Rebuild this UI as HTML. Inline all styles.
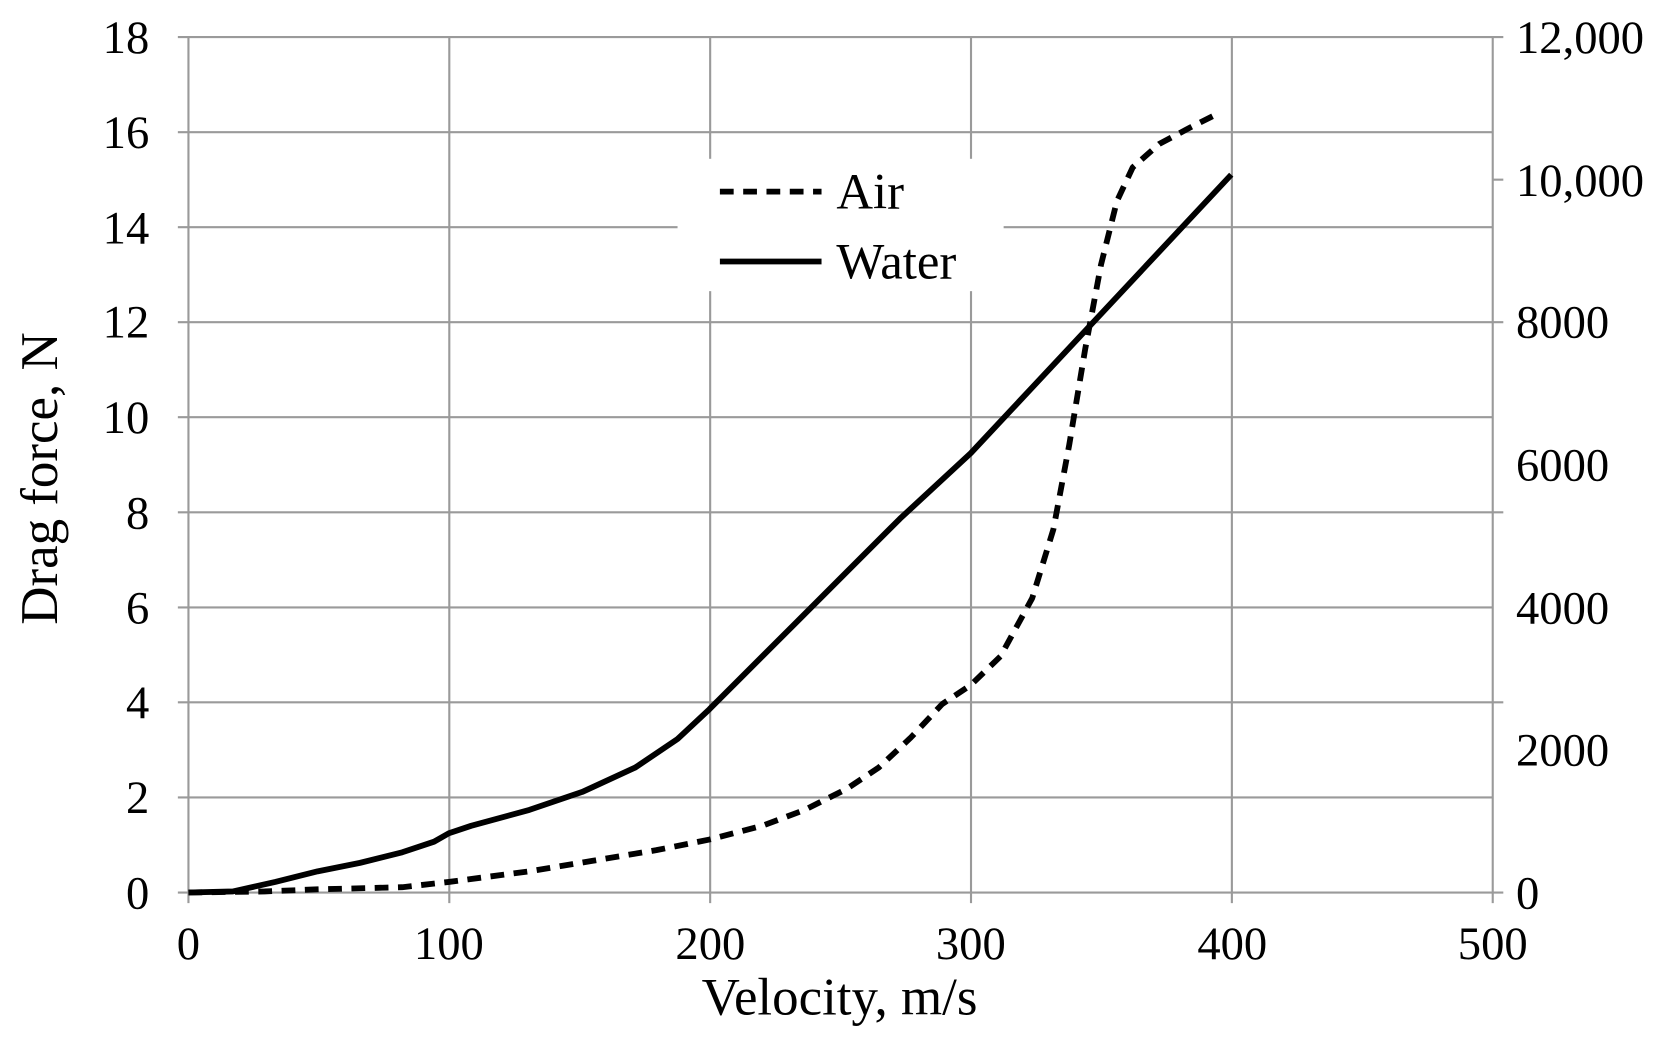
<!DOCTYPE html>
<html><head><meta charset="utf-8"><style>
html,body{margin:0;padding:0;background:#fff;}
svg{display:block;}
text{font-family:"Liberation Serif",serif;fill:#000;}
</style></head><body>
<svg width="1660" height="1042" viewBox="0 0 1568 984.2" preserveAspectRatio="none" xmlns="http://www.w3.org/2000/svg">
<g stroke="#9a9a9a" stroke-width="2" fill="none">
<line x1="168" y1="35" x2="1420" y2="35"/>
<line x1="168" y1="124.8" x2="1410" y2="124.8"/>
<line x1="168" y1="214.6" x2="1410" y2="214.6"/>
<line x1="168" y1="304.3" x2="1420" y2="304.3"/>
<line x1="168" y1="394.1" x2="1410" y2="394.1"/>
<line x1="168" y1="483.9" x2="1420" y2="483.9"/>
<line x1="168" y1="573.7" x2="1410" y2="573.7"/>
<line x1="168" y1="663.4" x2="1420" y2="663.4"/>
<line x1="168" y1="753.2" x2="1410" y2="753.2"/>
<line x1="168" y1="843" x2="1420" y2="843"/>
<line x1="1410" y1="169.7" x2="1420" y2="169.7"/>
<line x1="178" y1="35" x2="178" y2="853"/>
<line x1="424.4" y1="35" x2="424.4" y2="853"/>
<line x1="670.8" y1="35" x2="670.8" y2="853"/>
<line x1="917.2" y1="35" x2="917.2" y2="853"/>
<line x1="1163.6" y1="35" x2="1163.6" y2="853"/>
<line x1="1410" y1="35" x2="1410" y2="853"/>
</g>
<rect x="640" y="150" width="308" height="125" fill="#fff"/>
<g font-size="44" text-anchor="end">
<text x="141" y="50">18</text><text x="141" y="140">16</text><text x="141" y="230">14</text>
<text x="141" y="319">12</text><text x="141" y="409">10</text><text x="141" y="499">8</text>
<text x="141" y="589">6</text><text x="141" y="678">4</text><text x="141" y="768">2</text>
<text x="141" y="858">0</text>
</g>
<g font-size="44" text-anchor="start">
<text x="1432" y="50">12,000</text><text x="1432" y="185">10,000</text><text x="1432" y="319">8000</text>
<text x="1432" y="454">6000</text><text x="1432" y="589">4000</text><text x="1432" y="723">2000</text>
<text x="1432" y="858">0</text>
</g>
<g font-size="44" text-anchor="middle">
<text x="178" y="906">0</text><text x="424" y="906">100</text><text x="671" y="906">200</text>
<text x="917" y="906">300</text><text x="1164" y="906">400</text><text x="1410" y="906">500</text>
</g>
<text x="793" y="958" font-size="50" text-anchor="middle">Velocity, m/s</text>
<text transform="translate(54,452) rotate(-90)" font-size="50" text-anchor="middle">Drag force, N</text>
<g fill="none" stroke="#000" stroke-width="5.5" stroke-linejoin="round">
<polyline points="178,843 220,842 260,833 300,823 340,815 380,805 410,795 424,787 445,780 500,765 550,748 600,725 640,698 670,670 700,640 750,590 800,540 850,490 917,428 1163,165"/>
<polyline stroke-dasharray="13 9" points="178,843 250,842 300,840 380,838 424,833 500,823 560,813 620,803 670,793 720,780 760,765 800,745 830,725 860,697 890,665 917,647 945,620 975,565 995,500 1010,420 1025,330 1040,250 1055,190 1070,158 1095,136 1125,120 1153,106"/>
<line x1="680" y1="181" x2="776" y2="181" stroke-dasharray="13 9"/>
<line x1="680" y1="247" x2="776" y2="247"/>
</g>
<text x="790" y="197" font-size="48">Air</text>
<text x="790" y="263" font-size="48">Water</text>
</svg>
</body></html>
